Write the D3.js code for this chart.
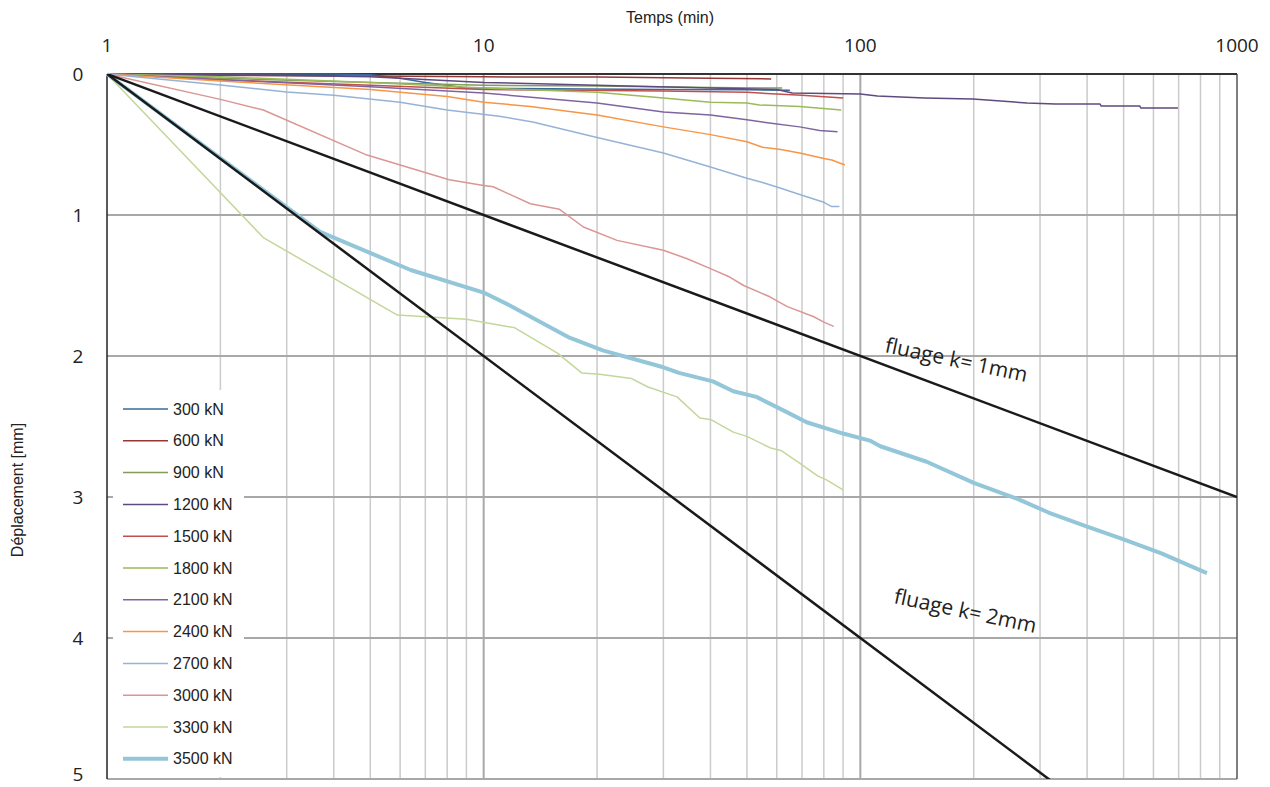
<!DOCTYPE html>
<html>
<head>
<meta charset="utf-8">
<script src="https://cdn.jsdelivr.net/npm/d3@7"></script>
<style>
  body { margin: 0; background: #fff; }
  text { font-family: "Liberation Sans", Arial, sans-serif; fill: #222; }
  .tick-num { font-family: "Open Sans", "Liberation Sans", sans-serif; font-size: 19px; }
  .note { font-family: "Open Sans", "Liberation Sans", sans-serif; font-size: 21px; }
</style>
</head>
<body>
<svg id="chart" width="1270" height="787"></svg>
<script>
// load steps (legend labels)
var loads = ["300 kN", "600 kN", "900 kN", "1200 kN", "1500 kN", "1800 kN",
             "2100 kN", "2400 kN", "2700 kN", "3000 kN", "3300 kN", "3500 kN"];

// [time (min), displacement (mm)]
var s300 = [[1,0],[2,0],[4,0],[5,0.005],[6,0.03],[7,0.06],[9,0.10],[15,0.105],[30,0.11],[50,0.112],[65,0.115]];
var s600 = [[1,0],[2,0.01],[5,0.015],[10,0.02],[20,0.022],[40,0.03],[58,0.035]];
var s900 = [[1,0],[2,0.03],[5,0.06],[10,0.08],[20,0.085],[40,0.095],[62,0.1]];
var s1200 = [[1,0],[3,0.01],[5,0.02],[10,0.06],[20,0.08],[40,0.10],[60,0.11],[66,0.135],[100,0.142],[111,0.156],
             [148,0.17],[199,0.177],[277,0.206],[329,0.213],[433,0.213],[436,0.227],[552,0.227],[555,0.241],[697,0.241]];
var s1500 = [[1,0],[2,0.04],[5,0.08],[10,0.11],[30,0.12],[50,0.13],[58,0.14],[70,0.15],[90,0.17]];
var s1800 = [[1,0],[2,0.02],[5,0.06],[10,0.10],[20,0.13],[27,0.16],[30,0.17],[40,0.2],[50,0.205],[54,0.22],[69,0.23],[89,0.255]];
var s2100 = [[1,0],[2,0.04],[5,0.09],[10,0.135],[20,0.205],[30,0.27],[40,0.29],[50,0.325],[58,0.35],[69,0.375],[78,0.40],[87,0.41]];
var s2400 = [[1,0],[2,0.05],[5,0.11],[8,0.16],[10,0.20],[13.3,0.23],[20,0.29],[30,0.375],[40,0.43],[50,0.48],[55,0.52],
             [61.5,0.535],[69,0.56],[80,0.60],[84,0.61],[91,0.645]];
var s2700 = [[1,0],[2,0.078],[3,0.128],[4,0.15],[6,0.2],[8,0.255],[11,0.30],[13.5,0.34],[20,0.45],[30,0.56],[40,0.66],
             [50,0.74],[55,0.77],[61.5,0.81],[70,0.86],[80,0.91],[84,0.94],[88,0.94]];
var s3000 = [[1,0],[2,0.18],[2.6,0.255],[4.9,0.575],[8.1,0.75],[10,0.79],[10.6,0.80],[13.3,0.92],[15.9,0.96],[18.4,1.085],
             [22.6,1.18],[30,1.25],[34.7,1.31],[40,1.38],[45,1.44],[49,1.50],[57.5,1.58],[64,1.65],[75,1.72],[80,1.76],[85,1.79]];
var s3300 = [[1,0],[2.6,1.16],[5.9,1.71],[9,1.74],[12.1,1.80],[15.7,1.98],[18.2,2.12],[20.3,2.13],[24.7,2.16],[27.3,2.22],
             [32.6,2.29],[37.5,2.44],[40,2.45],[46,2.54],[50,2.57],[57.5,2.65],[61.5,2.67],[69,2.76],[77,2.85],[81.5,2.88],[90,2.95]];
var s3500 = [[1,0],[3.68,1.12],[6.4,1.39],[10,1.55],[11.7,1.64],[16.9,1.87],[20.7,1.96],[30,2.08],[33,2.12],[40.6,2.18],
             [46,2.25],[53,2.29],[64,2.40],[72,2.47],[90,2.55],[106,2.60],[113,2.64],[150,2.75],[200,2.90],[265,3.02],
             [316,3.11],[400,3.21],[500,3.30],[630,3.40],[832,3.54]];
var series = [s300, s600, s900, s1200, s1500, s1800, s2100, s2400, s2700, s3000, s3300, s3500];

// creep reference lines: displacement = k * log10(t)
var creepK = [1, 2];
var creepLabels = ["fluage k= 1mm", "fluage k= 2mm"];

var xTicks = [1, 10, 100, 1000];
var yTicks = [0, 1, 2, 3, 4, 5];

var colors = ["#386a9e", "#953735", "#849c5a", "#5f4a7f", "#c0504d", "#9bbb59",
              "#8064a2", "#f79646", "#95b3d7", "#da9694", "#c3d69b", "#93c6d8"];

var plotL = 107, plotR = 1237, plotT = 74, plotB = 779;
var x = d3.scaleLog().domain([1, 1000]).range([plotL, plotR]);
var y = d3.scaleLinear().domain([0, 5]).range([plotT, plotB]);

var svg = d3.select("#chart");

// grid
var minor = [];
[1, 10, 100].forEach(function (d) {
    for (var i = 2; i <= 9; i++) minor.push(d * i);
});
svg.append("g").selectAll("line").data(minor).enter().append("line")
    .attr("x1", function (d) { return x(d); }).attr("x2", function (d) { return x(d); })
    .attr("y1", plotT).attr("y2", plotB)
    .attr("stroke", "#cbcbcb").attr("stroke-width", 1.5);
svg.append("g").selectAll("line").data([10, 100]).enter().append("line")
    .attr("x1", function (d) { return x(d); }).attr("x2", function (d) { return x(d); })
    .attr("y1", plotT).attr("y2", plotB)
    .attr("stroke", "#a8a8a8").attr("stroke-width", 2);
svg.append("g").selectAll("line").data(yTicks.slice(1)).enter().append("line")
    .attr("x1", plotL).attr("x2", plotR)
    .attr("y1", function (d) { return y(d); }).attr("y2", function (d) { return y(d); })
    .attr("stroke", "#a8a8a8").attr("stroke-width", 2);
// frame
svg.append("line").attr("x1", plotR).attr("x2", plotR).attr("y1", plotT).attr("y2", plotB)
    .attr("stroke", "#555").attr("stroke-width", 1.5);
svg.append("line").attr("x1", plotL).attr("x2", plotR).attr("y1", plotT).attr("y2", plotT)
    .attr("stroke", "#333").attr("stroke-width", 2);
svg.append("line").attr("x1", plotL).attr("x2", plotL).attr("y1", plotT).attr("y2", plotB)
    .attr("stroke", "#222").attr("stroke-width", 1.5);

// series
var line = d3.line()
    .x(function (d) { return x(d[0]); })
    .y(function (d) { return y(d[1]); });
svg.append("g").selectAll("path").data(series).enter().append("path")
    .attr("d", line)
    .attr("fill", "none")
    .attr("stroke", function (d, i) { return colors[i]; })
    .attr("stroke-width", function (d, i) { return i === 11 ? 4 : 1.5; })
    .attr("stroke-linejoin", "round");

// creep lines, clipped to the plot
svg.append("clipPath").attr("id", "plot")
    .append("rect").attr("x", plotL).attr("y", plotT).attr("width", plotR - plotL).attr("height", plotB - plotT);
svg.append("g").attr("clip-path", "url(#plot)").selectAll("path").data(creepK).enter().append("path")
    .attr("d", function (k) { return line([[1, 0], [1000, 3 * k]]); })
    .attr("fill", "none").attr("stroke", "#1a1a1a").attr("stroke-width", 2.5);

svg.append("text").attr("class", "note")
    .attr("transform", "translate(884,352) rotate(12)")
    .text(creepLabels[0]);
svg.append("text").attr("class", "note")
    .attr("transform", "translate(893,603) rotate(12)")
    .text(creepLabels[1]);

// axes labels
svg.append("g").selectAll("text").data(xTicks).enter().append("text")
    .attr("class", "tick-num")
    .attr("x", function (d) { return x(d); }).attr("y", 52)
    .attr("text-anchor", "middle")
    .text(function (d) { return d; });
svg.append("g").selectAll("text").data(yTicks).enter().append("text")
    .attr("class", "tick-num")
    .attr("x", 78).attr("y", function (d) { return Math.min(y(d) + 7, 781); })
    .attr("text-anchor", "middle")
    .text(function (d) { return d; });

svg.append("text").attr("x", 670).attr("y", 23).attr("text-anchor", "middle")
    .style("font-size", "16px").text("Temps (min)");
svg.append("text").attr("transform", "translate(23,490) rotate(-90)").attr("text-anchor", "middle")
    .style("font-size", "16px").text("Déplacement [mm]");

// legend
var legend = svg.append("g");
legend.append("rect").attr("x", 113).attr("y", 390).attr("width", 131).attr("height", 387).attr("fill", "#fff");
var item = legend.selectAll("g.item").data(loads).enter().append("g")
    .attr("transform", function (d, i) { return "translate(0," + (409 + i * 31.8) + ")"; });
item.append("line").attr("x1", 123).attr("x2", 168).attr("y1", 0).attr("y2", 0)
    .attr("stroke", function (d, i) { return colors[i]; })
    .attr("stroke-width", function (d, i) { return i === 11 ? 4 : 1.5; });
item.append("text").attr("x", 173).attr("y", 5.5).style("font-size", "16px")
    .text(function (d) { return d; });
</script>
</body>
</html>
